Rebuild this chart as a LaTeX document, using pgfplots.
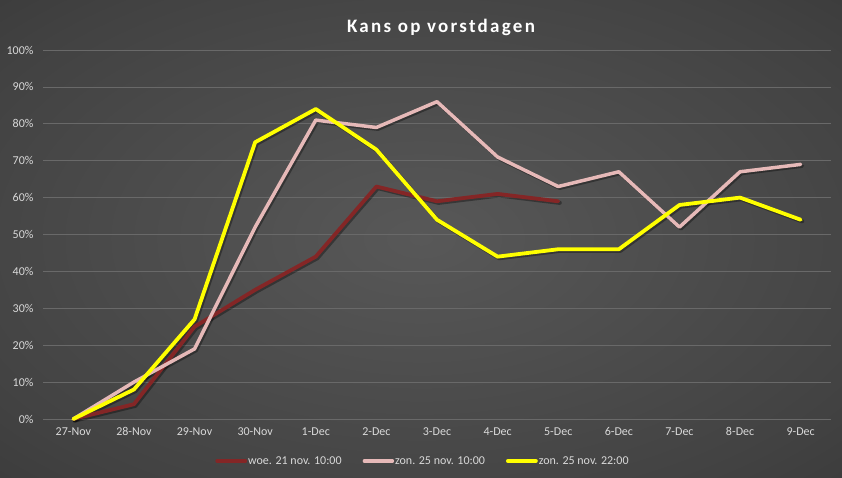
\documentclass[border=0pt]{standalone}
\usepackage{fontspec}
\setmainfont{Carlito}
\newfontfamily\titlefont[LetterSpace=12]{Carlito}
\usepackage{pgfplots}
\pgfplotsset{compat=1.18}
\definecolor{bgin}{RGB}{88,88,88}
\definecolor{bgmid}{RGB}{66,66,66}
\definecolor{bgout}{RGB}{28,28,28}
\definecolor{gridc}{RGB}{105,105,105}
\definecolor{ticklab}{RGB}{217,217,217}
\definecolor{sdark}{RGB}{132,38,38}
\definecolor{spink}{RGB}{230,185,184}
\definecolor{syellow}{RGB}{255,255,0}
\pgfdeclareradialshading{bgshade}{\pgfpoint{0bp}{0bp}}{color(0bp)=(bgin); color(30bp)=(bgmid); color(71bp)=(bgout)}
\pgfplotstableread{
x dark pink yellow
0 0 0 0
1 4 10 8
2 25 19 27
3 35 52 75
4 44 81 84
5 63 79 73
6 59 86 54
7 61 71 44
8 59 63 46
9 nan 67 46
10 nan 52 58
11 nan 67 60
12 nan 69 54
}\vorst
\begin{document}
\begin{tikzpicture}
\shade[shading=bgshade] (0pt,0pt) rectangle (842pt,477pt);
\node[text=white, font=\titlefont\bfseries\fontsize{19}{22}\selectfont] at (441pt,450pt) {Kans op vorstdagen};
\begin{axis}[
  at={(43pt,58pt)}, anchor=south west,
  width=788pt, height=369pt, scale only axis,
  xmin=-0.5, xmax=12.5, ymin=0, ymax=100,
  clip=false,
  axis line style={draw=none},
  major tick length=0pt,
  xtick={0,...,12},
  xticklabels={27-Nov,28-Nov,29-Nov,30-Nov,1-Dec,2-Dec,3-Dec,4-Dec,5-Dec,6-Dec,7-Dec,8-Dec,9-Dec},
  ytick={0,10,...,100},
  yticklabels={0\%,10\%,20\%,30\%,40\%,50\%,60\%,70\%,80\%,90\%,100\%},
  ymajorgrids,
  grid style={gridc, line width=0.75pt},
  tick label style={text=ticklab, font=\fontsize{12}{14}\selectfont},
  yticklabel style={xshift=-6pt},
  xticklabel style={yshift=-5pt},
  legend style={at={(0.4816,-0.1138)}, anchor=center, legend columns=3, draw=none, fill=none,
    text=ticklab, font=\fontsize{12}{14}\selectfont, nodes={inner xsep=1pt},
    /tikz/every even column/.append style={column sep=20pt}},
  legend image code/.code={\draw[#1] (0pt,0pt) -- (28pt,0pt);},
  every axis plot/.append style={line join=round, line cap=round},
  unbounded coords=jump,
]
% soft drop shadows
\addplot[black, opacity=0.35, line width=4.2pt, xshift=1.5pt, yshift=-1.5pt, forget plot] table[x=x,y=dark] {\vorst};
\addplot[black, opacity=0.35, line width=3.9pt, xshift=1.5pt, yshift=-1.5pt, forget plot] table[x=x,y=pink] {\vorst};
\addplot[black, opacity=0.35, line width=4.2pt, xshift=1.5pt, yshift=-1.5pt, forget plot] table[x=x,y=yellow] {\vorst};
\addplot[sdark, line width=3.8pt] table[x=x,y=dark] {\vorst};
\addlegendentry{woe. 21 nov. 10:00}
\addplot[spink, line width=3.5pt] table[x=x,y=pink] {\vorst};
\addlegendentry{zon. 25 nov. 10:00}
\addplot[syellow, line width=3.8pt] table[x=x,y=yellow] {\vorst};
\addlegendentry{zon. 25 nov. 22:00}
\end{axis}
\end{tikzpicture}
\end{document}
